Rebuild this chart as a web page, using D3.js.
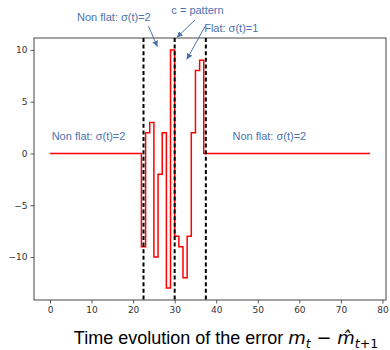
<!DOCTYPE html>
<html>
<head>
<meta charset="utf-8">
<script src="https://cdn.jsdelivr.net/npm/d3@7"></script>
<style>
  body { margin: 0; background: #fff; }
  svg { display: block; }
</style>
</head>
<body>
<div id="chart"></div>
<script>
// error m_t - m^_{t+1}, one value per time step t = 0..77
const timeSteps = [
  0, 1, 2, 3, 4, 5, 6, 7, 8, 9, 10, 11, 12, 13, 14, 15, 16, 17, 18, 19,
  20, 21, 22, 23, 24, 25, 26, 27, 28, 29, 30, 31, 32, 33, 34, 35, 36, 37, 38, 39,
  40, 41, 42, 43, 44, 45, 46, 47, 48, 49, 50, 51, 52, 53, 54, 55, 56, 57, 58, 59,
  60, 61, 62, 63, 64, 65, 66, 67, 68, 69, 70, 71, 72, 73, 74, 75, 76, 77
];
const errorValues = [
  0, 0, 0, 0, 0, 0, 0, 0, 0, 0, 0, 0, 0, 0, 0, 0, 0, 0, 0, 0,
  0, 0, -9, 2, 3, -10, -2, 2, -13, 10, -8, -9, -12, -8, 2, 8, 9, 0, 0, 0,
  0, 0, 0, 0, 0, 0, 0, 0, 0, 0, 0, 0, 0, 0, 0, 0, 0, 0, 0, 0,
  0, 0, 0, 0, 0, 0, 0, 0, 0, 0, 0, 0, 0, 0, 0, 0, 0, 0
];
const changePoints = [22.5, 30, 37.5];
const xTicks = [0, 10, 20, 30, 40, 50, 60, 70, 80];
const yTicks = [-10, -5, 0, 5, 10];

// annotation labels, text start point and arrow in data units
const noteTexts = ['Non flat: σ(t)=2', 'c = pattern', 'Flat: σ(t)=1', 'Non flat: σ(t)=2', 'Non flat: σ(t)=2'];
const noteAt = [[6.5, 13.08], [29.2, 13.7], [37.1, 12.05], [0.4, 1.55], [43.9, 1.55]];
const noteArrowFrom = [[23.7, 12.3], [34.9, 12.9], [37.35, 12.3], null, null];
const noteArrowTo = [[25.85, 10.3], [30.5, 11.2], [32.9, 9.07], null, null];

const width = 390;
const height = 350;
const margin = { top: 38, right: 4, bottom: 50, left: 34 };

const svg = d3.select('#chart')
  .append('svg')
  .attr('width', width)
  .attr('height', height);

const x = d3.scaleLinear()
  .domain([-3.85, 80.85])
  .range([margin.left, width - margin.right]);

const y = d3.scaleLinear()
  .domain([-14.15, 11.15])
  .range([height - margin.bottom, margin.top]);

const fmt = (d) => d < 0 ? '\u2212' + Math.abs(d) : '' + d;

// axes
const xAxis = svg.append('g')
  .attr('transform', `translate(0, ${height - margin.bottom})`)
  .call(d3.axisBottom(x).tickValues(xTicks).tickFormat(fmt).tickSizeOuter(0).tickSize(3.5).tickPadding(3));

const yAxis = svg.append('g')
  .attr('transform', `translate(${margin.left}, 0)`)
  .call(d3.axisLeft(y).tickValues(yTicks).tickFormat(fmt).tickSizeOuter(0).tickSize(3.5).tickPadding(3));

[xAxis, yAxis].forEach((g) => {
  g.select('.domain').remove();
  g.selectAll('line').attr('stroke', '#333').attr('stroke-width', 0.8);
  g.selectAll('text')
    .attr('fill', '#333')
    .style('font-family', 'DejaVu Sans')
    .style('font-size', '9px');
});

// frame
svg.append('rect')
  .attr('x', margin.left)
  .attr('y', margin.top)
  .attr('width', width - margin.left - margin.right)
  .attr('height', height - margin.top - margin.bottom)
  .attr('fill', 'none')
  .attr('stroke', '#333')
  .attr('stroke-width', 0.9);

// step line
const line = d3.line()
  .x((d, i) => x(timeSteps[i]))
  .y((d) => y(d))
  .curve(d3.curveStepAfter);

svg.append('path')
  .datum(errorValues)
  .attr('d', line)
  .attr('fill', 'none')
  .attr('stroke', '#ff0000')
  .attr('stroke-width', 1.5);

// change points
svg.selectAll('.cp')
  .data(changePoints)
  .join('line')
  .attr('class', 'cp')
  .attr('x1', (d) => x(d))
  .attr('x2', (d) => x(d))
  .attr('y1', margin.top)
  .attr('y2', height - margin.bottom)
  .attr('stroke', '#000')
  .attr('stroke-width', 2)
  .attr('stroke-dasharray', '4,2.6');

// annotations
const blue = '#4c72b0';
svg.append('defs').append('marker')
  .attr('id', 'head')
  .attr('viewBox', '0 0 10 10')
  .attr('refX', 10)
  .attr('refY', 5)
  .attr('markerWidth', 6)
  .attr('markerHeight', 6)
  .attr('markerUnits', 'userSpaceOnUse')
  .attr('orient', 'auto')
  .append('path')
  .attr('d', 'M0,0 L10,5 L0,10 Z')
  .attr('fill', blue);

noteTexts.forEach((t, i) => {
  svg.append('text')
    .attr('x', x(noteAt[i][0]))
    .attr('y', y(noteAt[i][1]))
    .attr('dominant-baseline', 'middle')
    .attr('fill', blue)
    .style('font-family', 'Liberation Sans')
    .style('font-size', '11px')
    .text(t);
  if (noteArrowTo[i]) {
    svg.append('line')
      .attr('x1', x(noteArrowFrom[i][0]))
      .attr('y1', y(noteArrowFrom[i][1]))
      .attr('x2', x(noteArrowTo[i][0]))
      .attr('y2', y(noteArrowTo[i][1]))
      .attr('stroke', blue)
      .attr('stroke-width', 1)
      .attr('marker-end', 'url(#head)');
  }
});

// title below the axes
const title = svg.append('text')
  .attr('x', 226)
  .attr('y', 344)
  .attr('text-anchor', 'middle')
  .attr('fill', '#000')
  .style('font-family', 'Liberation Sans')
  .style('font-size', '18px');
title.append('tspan').text('Time evolution of the error ');
const mathFont = 'DejaVu Sans';
title.append('tspan').style('font-family', mathFont).style('font-style', 'italic').text('m');
title.append('tspan').style('font-family', mathFont).style('font-style', 'italic').style('font-size', '12.5px').attr('dy', 4).text('t');
title.append('tspan').style('font-family', mathFont).attr('dy', -4).text(' \u2212 ');
title.append('tspan').style('font-family', mathFont).style('font-style', 'italic').text('m\u0302');
title.append('tspan').style('font-family', mathFont).style('font-style', 'italic').style('font-size', '12.5px').attr('dy', 4).text('t');
title.append('tspan').style('font-family', mathFont).style('font-size', '12.5px').text('+1');
</script>
</body>
</html>
